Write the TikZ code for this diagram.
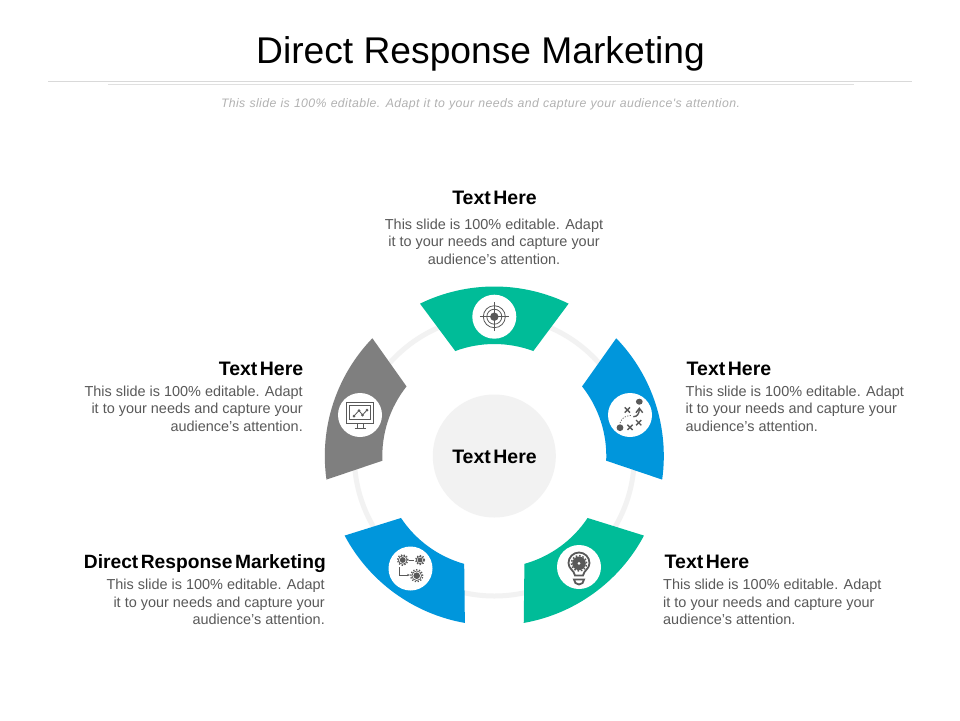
\documentclass[tikz,border=0pt]{standalone}
\usepackage{fontspec}
\setmainfont{Liberation Sans}
\usetikzlibrary{calc,arrows.meta}
\definecolor{teal}{HTML}{00BC98}
\definecolor{azure}{HTML}{0096DC}
\definecolor{slate}{HTML}{7F7F7F}
\definecolor{ink}{HTML}{595959}
\definecolor{bodygrey}{HTML}{595959}
\definecolor{pale}{HTML}{F2F2F2}
\newfontfamily\subfont[LetterSpace=3.2,WordSpace=1.1]{Liberation Sans}
% colour, mid angle, badge name, badge position
\newcommand{\petal}[4]{%
  \fill[#1] ($(c)+(#2+26:169.5)$) arc[start angle=#2+26,delta angle=-52,radius=169.5pt]
    -- ($(c)+(#2-20.4:112)$) arc[start angle=#2-20.4,delta angle=40.8,radius=112pt] -- cycle;
  \node[badge] (#3) at (#4) {};}
\tikzset{
  x=1pt,y=1pt,
  badge/.style={circle,fill=white,minimum size=44pt,inner sep=0pt},
  headtext/.style={font=\fontsize{19.5}{21}\bfseries\selectfont,text=black,inner sep=0pt},
  longhead/.style={font=\fontsize{19.2}{21}\bfseries\selectfont,text=black,inner sep=0pt},
  bodytext/.style={font=\fontsize{14.45}{17.5}\selectfont,text=bodygrey,inner sep=0pt},
  iconline/.style={draw=ink,line width=0.8pt},
  cross/.pic={\draw[ink,line width=1.4pt] (-2.6,-2.6)--(2.6,2.6) (-2.6,2.6)--(2.6,-2.6);},
  gear/.pic={\fill[ink] (0,0) circle[radius=#1*0.55];
    \draw[ink,line width=0.7pt] (0,0) circle[radius=#1*0.8];
    \draw[ink,line width=1.3pt,dash pattern=on 1.3pt off 1.6pt] (0,0) circle[radius=#1];}
}
\begin{document}
\begin{tikzpicture}
\useasboundingbox (0,0) rectangle (960,-720);
\fill[white] (0,0) rectangle (960,-720);
\coordinate (c) at (494.3,-456);
% title block
\node[font=\fontsize{37.2}{40}\selectfont,text=black,inner sep=0pt] (title) at (480.5,-53.5) {Direct Response Marketing};
\coordinate (ruleAl) at (48,-81); \coordinate (ruleAr) at (912,-81);
\coordinate (ruleBl) at (108,-84.5); \coordinate (ruleBr) at (854,-84.5);
\draw[color=black!15,line width=0.8pt] (ruleAl) -- (ruleAr);
\draw[color=black!12,line width=0.8pt] (ruleBl) -- (ruleBr);
\node[font=\fontsize{12.28}{14}\subfont\itshape\selectfont,text=black!30,inner sep=0pt] (subtitle) at (480.5,-104) {This slide is 100\% editable. Adapt it to your needs and capture your audience's attention.};
% ring and hub
\draw[pale,line width=5pt] (c) circle[radius=140pt];
\fill[pale] (c) circle[radius=61.5pt];
\node[headtext] (hubtext) at (494.5,-456.5) {Text\hspace{2.5pt}Here};
% petals
\petal{teal}{90}{b1}{494.3,-316.7}
\petal{azure}{18}{b2}{630,-415}
\petal{teal}{-54}{b3}{579,-567}
\petal{azure}{-126}{b4}{410.5,-568.5}
\petal{slate}{162}{b5}{360,-415}
% target icon
\begin{scope}[shift={(b1)}]
  \fill[ink] (0,0) circle[radius=4.2];
  \draw[iconline] (0,0) circle[radius=7.5] (0,0) circle[radius=11];
  \draw[iconline,line width=0.6pt] (0,-14.5)--(0,14.5) (-14.5,0)--(14.5,0);
\end{scope}
% play icon
\begin{scope}[shift={(b2)}]
  \fill[ink] (9.3,13.3) ellipse[x radius=3.4,y radius=3];
  \fill[ink] (-10,-12.7) circle[radius=3.4];
  \pic at (-2.7,5) {cross};
  \pic at (0,-12.3) {cross};
  \pic at (8.7,-7.7) {cross};
  \draw[ink,line width=1.4pt] (3.3,-1.7) .. controls (7,-1.7) and (9.3,1) .. (9.3,6);
  \draw[ink,line width=1.4pt] (6,2.3) -- (9.3,6.7) -- (12.7,2.3);
  \draw[ink,line width=0.7pt,dash pattern=on 1.2pt off 1.4pt] (-10,-8) .. controls (-8,-2) and (-4,-1) .. (1,-0.5);
\end{scope}
% bulb icon
\begin{scope}[shift={(b3)}]
  \draw[ink,line width=1.8pt] (-4,-8.5) .. controls (-5,-3) and (-10.5,-2) .. (-10.5,4)
     arc[start angle=180,end angle=0,radius=10.5] .. controls (10.5,-2) and (5,-3) .. (4,-8.5) -- cycle;
  \fill[ink] (0,3.7) circle[radius=6.8];
  \draw[ink,line width=1.5pt,dash pattern=on 1.6pt off 1.8pt] (0,3.7) circle[radius=7.6];
  \fill[white] (0,3.7) circle[radius=1.5];
  \draw[ink,line width=1.8pt] (-5,-12.5) arc[start angle=180,end angle=360,radius=5] -- cycle;
\end{scope}
% gears icon
\begin{scope}[shift={(b4)}]
  \pic at (-7.8,8.5) {gear={5.3}};
  \pic at (9.5,8.5) {gear={4.5}};
  \pic at (6.2,-7.2) {gear={6}};
  \draw[ink,line width=0.9pt] (-1.5,8.5)--(3.5,8.5);
  \draw[ink,line width=0.8pt,-{Stealth[length=3pt]}] (-11.5,1.2)--(-11.5,-6.5)--(-0.5,-6.5);
\end{scope}
% monitor icon
\begin{scope}[shift={(b5)}]
  \draw[ink,line width=0.7pt] (-13.3,-8.3) rectangle (13.3,12.7);
  \draw[ink,line width=0.7pt] (-10.8,-4.3) rectangle (10.8,10);
  \draw[ink,line width=0.7pt] (-3,-8.3)--(-3,-13) (3,-8.3)--(3,-13) (-5.5,-13)--(5.5,-13);
  \draw[ink,line width=0.8pt] (-6,-1)--(-1,4.5)--(2.5,0)--(7,5);
  \foreach \p in {(-6,-1),(-1,4.5),(2.5,0),(7,5)} \fill[ink] \p circle[radius=1.5];
\end{scope}
% labels
\node[headtext] (h1) at (494.5,-197.5) {Text\hspace{2.5pt}Here};
\node[bodytext,align=center] (t1) at (494,-241.5) {This slide is 100\% editable. Adapt\\it to your needs and capture your\\audience's attention.};
\node[headtext,anchor=west] (h2) at (686.5,-368.5) {Text\hspace{2.5pt}Here};
\node[bodytext,align=left,anchor=west] (t2) at (685.5,-408.5) {This slide is 100\% editable. Adapt\\it to your needs and capture your\\audience's attention.};
\node[headtext,anchor=west] (h3) at (664.5,-561.5) {Text\hspace{2.5pt}Here};
\node[bodytext,align=left,anchor=west] (t3) at (663,-602) {This slide is 100\% editable. Adapt\\it to your needs and capture your\\audience's attention.};
\node[longhead,anchor=east] (h4) at (326,-563.5) {Direct\hspace{2.5pt}Response\hspace{2.5pt}Marketing};
\node[bodytext,align=right,anchor=east] (t4) at (325,-602) {This slide is 100\% editable. Adapt\\it to your needs and capture your\\audience's attention.};
\node[headtext,anchor=east] (h5) at (303.5,-368.5) {Text\hspace{2.5pt}Here};
\node[bodytext,align=right,anchor=east] (t5) at (303,-408.5) {This slide is 100\% editable. Adapt\\it to your needs and capture your\\audience's attention.};
\end{tikzpicture}
\end{document}
